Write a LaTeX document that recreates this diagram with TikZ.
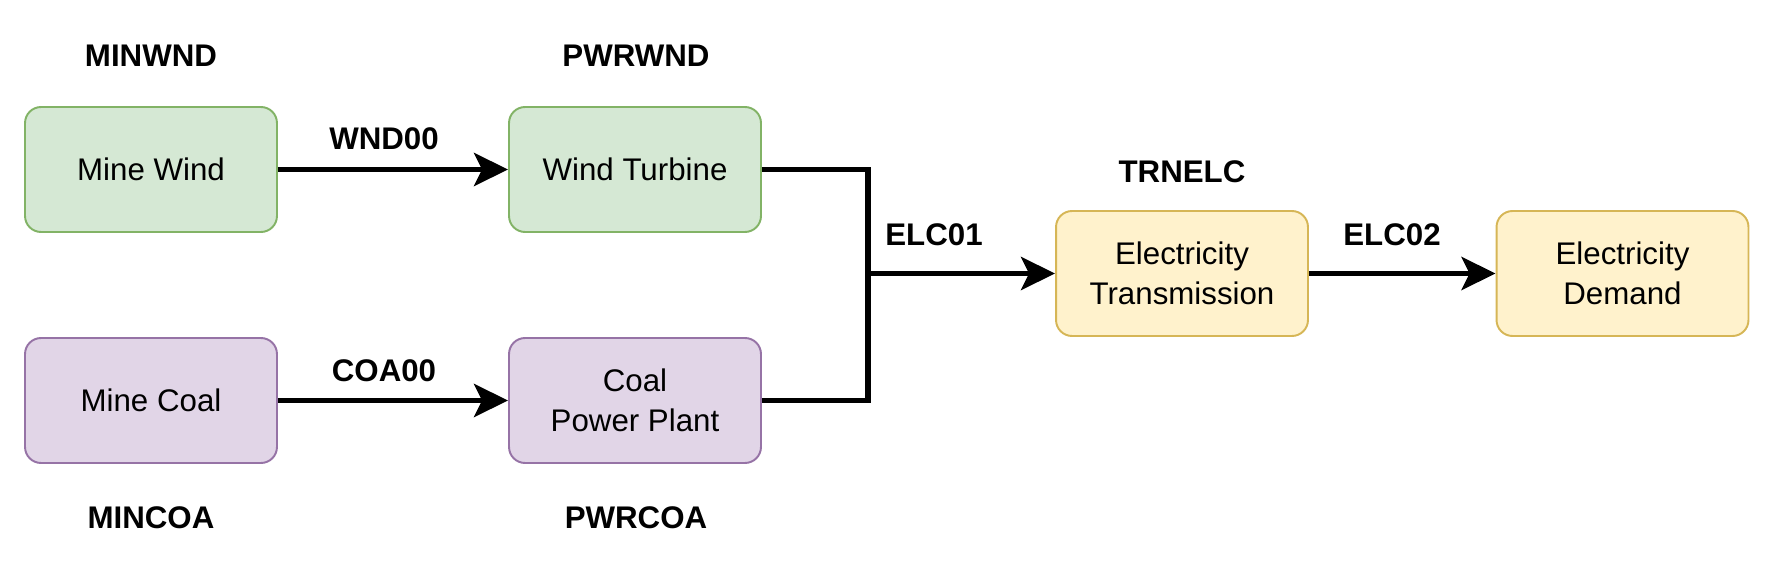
\documentclass[tikz,border=0pt]{standalone}
\usepackage{fontspec}
\setmainfont{Liberation Sans}
\usetikzlibrary{arrows.meta}
\definecolor{wndfill}{HTML}{D5E8D4}
\definecolor{wnddraw}{HTML}{82B366}
\definecolor{coafill}{HTML}{E1D5E7}
\definecolor{coadraw}{HTML}{9673A6}
\definecolor{elcfill}{HTML}{FFF2CC}
\definecolor{elcdraw}{HTML}{D6B656}

\begin{document}
\begin{tikzpicture}[
    x=0.02cm, y=-0.02cm,
    proc/.style={rectangle, rounded corners=0.32cm, line width=1.1pt, minimum width=5.04cm, minimum height=2.5cm, align=center, inner sep=0pt, font=\fontsize{17.8}{22.5}\selectfont},
    wnd/.style={proc, fill=wndfill, draw=wnddraw},
    coa/.style={proc, fill=coafill, draw=coadraw},
    elc/.style={proc, fill=elcfill, draw=elcdraw},
    code/.style={font=\fontsize{17.8}{22}\selectfont\bfseries},
    flow/.style={line width=0.11cm, -{Stealth[length=0.68cm, width=0.66cm, inset=0.16cm]}},
    link/.style={line width=0.11cm}
]
    \useasboundingbox (0,0) rectangle (1782,574);

    % Processes
    \node[wnd] (minwnd) at (151,169.5) {Mine Wind};
    \node[wnd] (pwrwnd) at (635,169.5) {Wind Turbine};
    \node[coa] (mincoa) at (151,400.5) {Mine Coal};
    \node[coa] (pwrcoa) at (635,400.5) {Coal\\Power Plant};
    \node[elc] (trnelc) at (1182,273.5) {Electricity\\Transmission};
    \node[elc] (elcdmd) at (1622.5,273.5) {Electricity\\Demand};

    % Process codes
    \node[code] (lblminwnd) at (151,56) {MINWND};
    \node[code] (lblpwrwnd) at (636,56) {PWRWND};
    \node[code] (lblmincoa) at (151,518) {MINCOA};
    \node[code] (lblpwrcoa) at (636,518) {PWRCOA};
    \node[code] (lbltrnelc) at (1182,172) {TRNELC};

    % Commodities
    \coordinate (junc) at (868,273.5);

    \draw[flow] (minwnd) -- (pwrwnd);
    \draw[flow] (mincoa) -- (pwrcoa);
    \draw[link] (pwrwnd.east) -| (junc);
    \draw[link] (pwrcoa.east) -| (junc);
    \draw[flow] (junc) -- (trnelc);
    \draw[flow] (trnelc) -- (elcdmd);

    \node[code] (lblwnd) at (384,139) {WND00};
    \node[code] (lblcoa) at (384,371) {COA00};
    \node[code] (lblelca) at (934,235) {ELC01};
    \node[code] (lblelcb) at (1392,235) {ELC02};

\end{tikzpicture}
\end{document}
